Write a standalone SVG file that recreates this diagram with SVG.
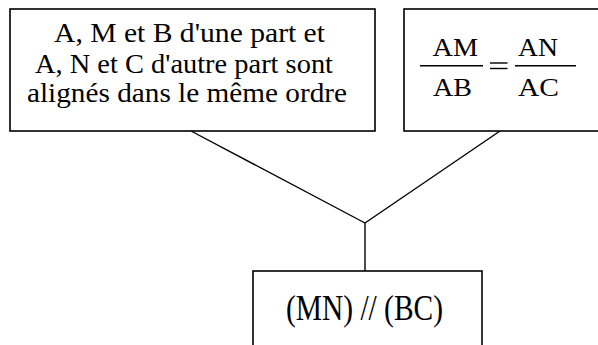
<svg xmlns="http://www.w3.org/2000/svg" width="598" height="345" viewBox="0 0 598 345">
<style>
.box{fill:#fff;stroke:#000;stroke-width:1.6}
.t{font-family:"Liberation Serif","Times New Roman",serif;fill:#000}
.conn line{stroke:#000;stroke-width:1.4}
.bar{stroke:#000;stroke-width:1.4}
</style>
<rect width="598" height="345" fill="#fff"/>
<g id="conn" class="conn">
<line x1="191" y1="131" x2="365" y2="223"/>
<line x1="500" y1="131" x2="365" y2="223"/>
<line x1="365" y1="223" x2="365" y2="271"/>
</g>
<g id="node-hyp1">
<rect class="box" x="10" y="9" width="365" height="122"/>
<text class="t" font-size="27" x="54" y="42" textLength="271" lengthAdjust="spacingAndGlyphs">A, M et B d'une part et</text>
<text class="t" font-size="27" x="35" y="72.5" textLength="298" lengthAdjust="spacingAndGlyphs">A, N et C d'autre part sont</text>
<text class="t" font-size="27" x="27" y="101.5" textLength="320" lengthAdjust="spacingAndGlyphs">alignés dans le même ordre</text>
</g>
<g id="node-hyp2">
<rect class="box" x="404" y="9" width="210" height="122"/>
<text class="t" font-size="26" x="432.5" y="56" textLength="45.5" lengthAdjust="spacingAndGlyphs">AM</text>
<line class="bar" x1="420" y1="65.7" x2="483" y2="65.7"/>
<text class="t" font-size="26" x="433" y="95.5" textLength="39" lengthAdjust="spacingAndGlyphs">AB</text>
<line class="bar" x1="490" y1="63" x2="507.5" y2="63"/>
<line class="bar" x1="490" y1="68.5" x2="507.5" y2="68.5"/>
<text class="t" font-size="26" x="518" y="56" textLength="40" lengthAdjust="spacingAndGlyphs">AN</text>
<line class="bar" x1="515" y1="65.7" x2="576" y2="65.7"/>
<text class="t" font-size="26" x="518" y="95.5" textLength="41" lengthAdjust="spacingAndGlyphs">AC</text>
</g>
<g id="node-concl">
<rect class="box" x="253" y="271" width="229" height="100"/>
<text class="t" font-size="35" x="286" y="320" textLength="157" lengthAdjust="spacingAndGlyphs">(MN) // (BC)</text>
</g>
</svg>
